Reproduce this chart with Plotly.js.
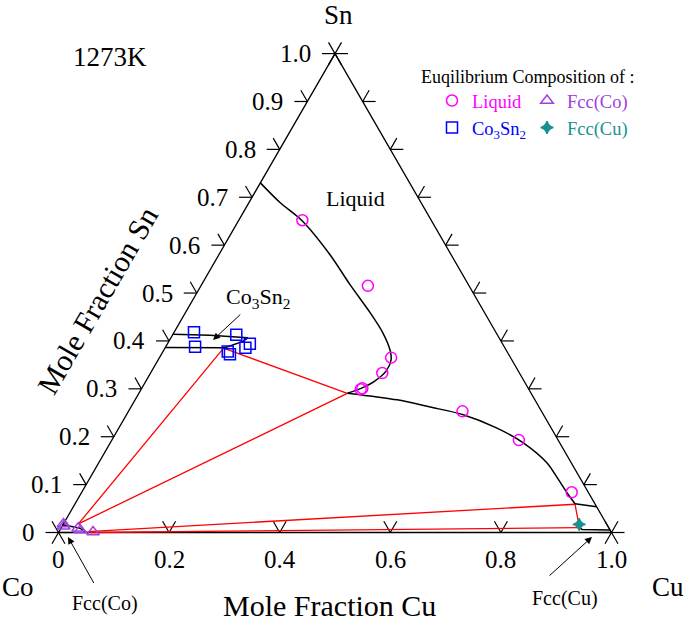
<!DOCTYPE html>
<html><head><meta charset="utf-8">
<script src="https://cdn.plot.ly/plotly-3.0.1.min.js"></script>
<style>body{margin:0;padding:0;background:#fff}#plot{width:685px;height:624px}</style>
</head><body><div id="plot"></div>
<script>
// ---- data: mole fractions (Sn, Cu); Co = 1 - Sn - Cu ----
var liqSn = [0.652, 0.515, 0.365, 0.333, 0.299, 0.301, 0.253, 0.193, 0.084];
var liqCu = [0.115, 0.302, 0.419, 0.419, 0.397, 0.399, 0.604, 0.736, 0.886];
var co3Sn = [0.418, 0.388, 0.413, 0.394, 0.386, 0.378, 0.372];
var co3Cu = [0.036, 0.053, 0.115, 0.149, 0.145, 0.117, 0.124];
var fccCoSn = [0.018, 0.013, 0.009, 0.005, 0.001];
var fccCoCu = [0.000, 0.003, 0.031, 0.037, 0.062];
var fccCuSn = [0.017];
var fccCuCu = [0.933];

var liqCurve1Sn = [0.730, 0.689, 0.651, 0.580, 0.517, 0.459, 0.417, 0.381, 0.361, 0.338, 0.315, 0.300, 0.291];
var liqCurve1Cu = [0.000, 0.056, 0.115, 0.201, 0.269, 0.334, 0.378, 0.409, 0.421, 0.424, 0.413, 0.395, 0.377];
var liqCurve2Sn = [0.291, 0.277, 0.262, 0.246, 0.218, 0.187, 0.145, 0.116, 0.083, 0.060];
var liqCurve2Cu = [0.377, 0.474, 0.541, 0.609, 0.684, 0.747, 0.811, 0.843, 0.878, 0.904];
var liqEdgeSn = [0.060, 0.054];
var liqEdgeCu = [0.904, 0.946];
var co3BoundSn = [0.414, 0.412, 0.4065, 0.399, 0.3856, 0.3862];
var co3BoundCu = [0.000, 0.068, 0.139, 0.134, 0.108, 0.000];
var fccCoBoundSn = [0.016, 0.009, 0.000];
var fccCoBoundCu = [0.000, 0.0345, 0.050];
var fccCuBoundSn = [0.010, 0.0063, 0.0052];
var fccCuBoundCu = [0.937, 0.9436, 0.9948];

// tie lines: [Sn1, Cu1, Sn2, Cu2]
var tieLines = [
  [0.385, 0.106, 0.018, 0.027],
  [0.385, 0.106, 0.2905, 0.377],
  [0.018, 0.027, 0.2905, 0.377],
  [0.002, 0.052, 0.059, 0.9045],
  [0.000, 0.057, 0.010, 0.937],
  [0.059, 0.9045, 0.010, 0.937]
];

// triangle corners (Sn, Cu): Co, Cu, Sn
var cornerSn = [0, 0, 1];
var cornerCu = [0, 1, 0];

var snTicks = [0, 0.1, 0.2, 0.3, 0.4, 0.5, 0.6, 0.7, 0.8, 0.9, 1.0];
var snTickText = ['0', '0.1', '0.2', '0.3', '0.4', '0.5', '0.6', '0.7', '0.8', '0.9', '1.0'];
var cuTicks = [0, 0.2, 0.4, 0.6, 0.8, 1.0];
var cuTickText = ['0', '0.2', '0.4', '0.6', '0.8', '1.0'];

var FONT = 'Liberation Serif';
var R3 = Math.sqrt(3) / 2;
var L = 13 / 553;            // tick arm length (in composition units)

function X(sn, cu) { return sn.map(function (s, i) { return cu[i] + s / 2; }); }
function Y(sn) { return sn.map(function (s) { return s * R3; }); }
function lineTrace(sn, cu, color, w, spline) {
  return {type: 'scatter', mode: 'lines', x: X(sn, cu), y: Y(sn),
    line: {color: color, width: w, shape: spline ? 'spline' : 'linear', smoothing: 0.8},
    showlegend: false, hoverinfo: 'skip'};
}

var traces = [];
// frame
traces.push(lineTrace(cornerSn.concat([cornerSn[0]]), cornerCu.concat([cornerCu[0]]), '#000', 1.3, false));
// ticks
var tx = [], ty = [];
function seg(x0, y0, dx, dy) { tx.push(x0, x0 + dx, null); ty.push(y0, y0 + dy, null); }
snTicks.slice(1, -1).forEach(function (t) {
  var lx = t / 2, ly = t * R3;            // left edge (Cu = 0)
  seg(lx, ly, -L, 0); seg(lx, ly, -0.5 * L, R3 * L);
  var rx = 1 - t / 2;                      // right edge (Co = 0)
  seg(rx, ly, L, 0); seg(rx, ly, 0.5 * L, R3 * L);
});
cuTicks.slice(1, -1).forEach(function (c) {
  seg(c, 0, -0.5 * L, R3 * L); seg(c, 0, 0.5 * L, R3 * L);
});
cornerSn.forEach(function (s, i) {
  var vx = cornerCu[i] + s / 2, vy = s * R3;
  [[1, 0], [0.5, R3], [-0.5, R3]].forEach(function (d) {
    seg(vx - d[0] * L, vy - d[1] * L, 2 * d[0] * L, 2 * d[1] * L);
  });
});
traces.push({type: 'scatter', mode: 'lines', x: tx, y: ty, line: {color: '#000', width: 1.2},
  showlegend: false, hoverinfo: 'skip'});

tieLines.forEach(function (t) {
  traces.push(lineTrace([t[0], t[2]], [t[1], t[3]], '#ff0000', 1.3, false));
});
traces.push(lineTrace(liqCurve1Sn, liqCurve1Cu, '#000', 1.5, true));
traces.push(lineTrace(liqCurve2Sn, liqCurve2Cu, '#000', 1.5, true));
traces.push(lineTrace(liqEdgeSn, liqEdgeCu, '#000', 1.5, false));
traces.push(lineTrace(co3BoundSn, co3BoundCu, '#000', 1.5, false));
traces.push(lineTrace(fccCoBoundSn, fccCoBoundCu, '#000', 1.5, false));
traces.push(lineTrace(fccCuBoundSn, fccCuBoundCu, '#000', 1.5, false));

function pts(sn, cu, name, color, symbol, size, lg) {
  return {type: 'scatter', mode: 'markers', x: X(sn, cu), y: Y(sn),
    name: '<span style="color:' + color + '">' + name + '</span>',
    legend: lg, cliponaxis: false,
    marker: {symbol: symbol, size: size, color: color, line: {color: color, width: 1.5}}};
}
traces.push(pts(liqSn, liqCu, 'Liquid', '#ff00ff', 'circle-open', 11, 'legend'));
traces.push(pts(co3Sn, co3Cu, 'Co<sub>3</sub>Sn<sub>2</sub>', '#0000ff', 'square-open', 11, 'legend'));
traces.push(pts(fccCoSn, fccCoCu, 'Fcc(Co)', '#a040e0', 'triangle-up-open', 11, 'legend2'));
traces.push(pts(fccCuSn, fccCuCu, 'Fcc(Cu)', '#1a9090', 'star-diamond', 9, 'legend2'));

function pa(text, px, py, size, extra) {
  return Object.assign({text: text, x: px / 685, y: 1 - py / 624, xref: 'paper', yref: 'paper',
    xanchor: 'center', yanchor: 'middle', showarrow: false, font: {family: FONT, size: size, color: '#000'}}, extra || {});
}
// label with an arrow: head at (hx, hy), label centred at (px, py)
function pArrow(text, hx, hy, px, py, size, pad) {
  return {text: text, x: hx / 685, y: 1 - hy / 624, xref: 'paper', yref: 'paper',
    xanchor: 'center', yanchor: 'middle', showarrow: true, ax: px - hx, ay: py - hy, borderpad: pad,
    arrowhead: 2, arrowsize: 1.4, arrowwidth: 1, arrowcolor: '#000',
    font: {family: FONT, size: size, color: '#000'}};
}

var annotations = [];
snTicks.forEach(function (t, i) {
  annotations.push({text: snTickText[i], x: t / 2, y: t * R3, xref: 'x', yref: 'y', xanchor: 'right',
    yanchor: 'middle', xshift: -22, showarrow: false, font: {family: FONT, size: 25, color: '#000'}});
});
cuTicks.forEach(function (c, i) {
  annotations.push({text: cuTickText[i], x: c, y: 0, xref: 'x', yref: 'y', xanchor: 'center',
    yanchor: 'middle', yshift: -27, showarrow: false, font: {family: FONT, size: 25, color: '#000'}});
});
annotations.push(
  pa('Sn', 338, 15, 27), pa('Co', 18, 587, 27), pa('Cu', 668, 587, 27),
  pa('1273K', 110, 57, 27),
  pa('Liquid', 355, 198, 22),
  pa('Mole Fraction Sn', 97, 300, 30, {textangle: -60}),
  pa('Mole Fraction Cu', 329, 605, 30),
  pa('Euqilibrium Composition of :', 528, 77, 18),
  pArrow('Co<sub>3</sub>Sn<sub>2</sub>', 213, 340, 258, 298, 22, 2),
  pArrow('Fcc(Co)', 68, 537, 105, 603, 20, 8),
  pa('Fcc(Cu)', 565, 598, 20),
  {text: '', x: 592 / 685, y: 1 - 537 / 624, xref: 'paper', yref: 'paper', showarrow: true,
    ax: -44, ay: 40, arrowhead: 2, arrowsize: 1.4, arrowwidth: 1, arrowcolor: '#000'}
);

var layout = {
  width: 685, height: 624,
  margin: {l: 0, r: 0, t: 0, b: 0},
  paper_bgcolor: '#fff', plot_bgcolor: '#fff',
  font: {family: FONT, color: '#000'},
  xaxis: {visible: false, range: [-58.5 / 553, 626.5 / 553], fixedrange: true},
  yaxis: {visible: false, range: [-91.5 / 553, 532.5 / 553], fixedrange: true},
  showlegend: true,
  legend: {x: 432 / 685, y: 1 - 82 / 624, xanchor: 'left', yanchor: 'top', bgcolor: 'rgba(0,0,0,0)',
    font: {family: FONT, size: 18.5}},
  legend2: {x: 527 / 685, y: 1 - 82 / 624, xanchor: 'left', yanchor: 'top', bgcolor: 'rgba(0,0,0,0)',
    font: {family: FONT, size: 18.5}},
  annotations: annotations
};
Plotly.newPlot('plot', traces, layout, {staticPlot: true});
</script></body></html>
